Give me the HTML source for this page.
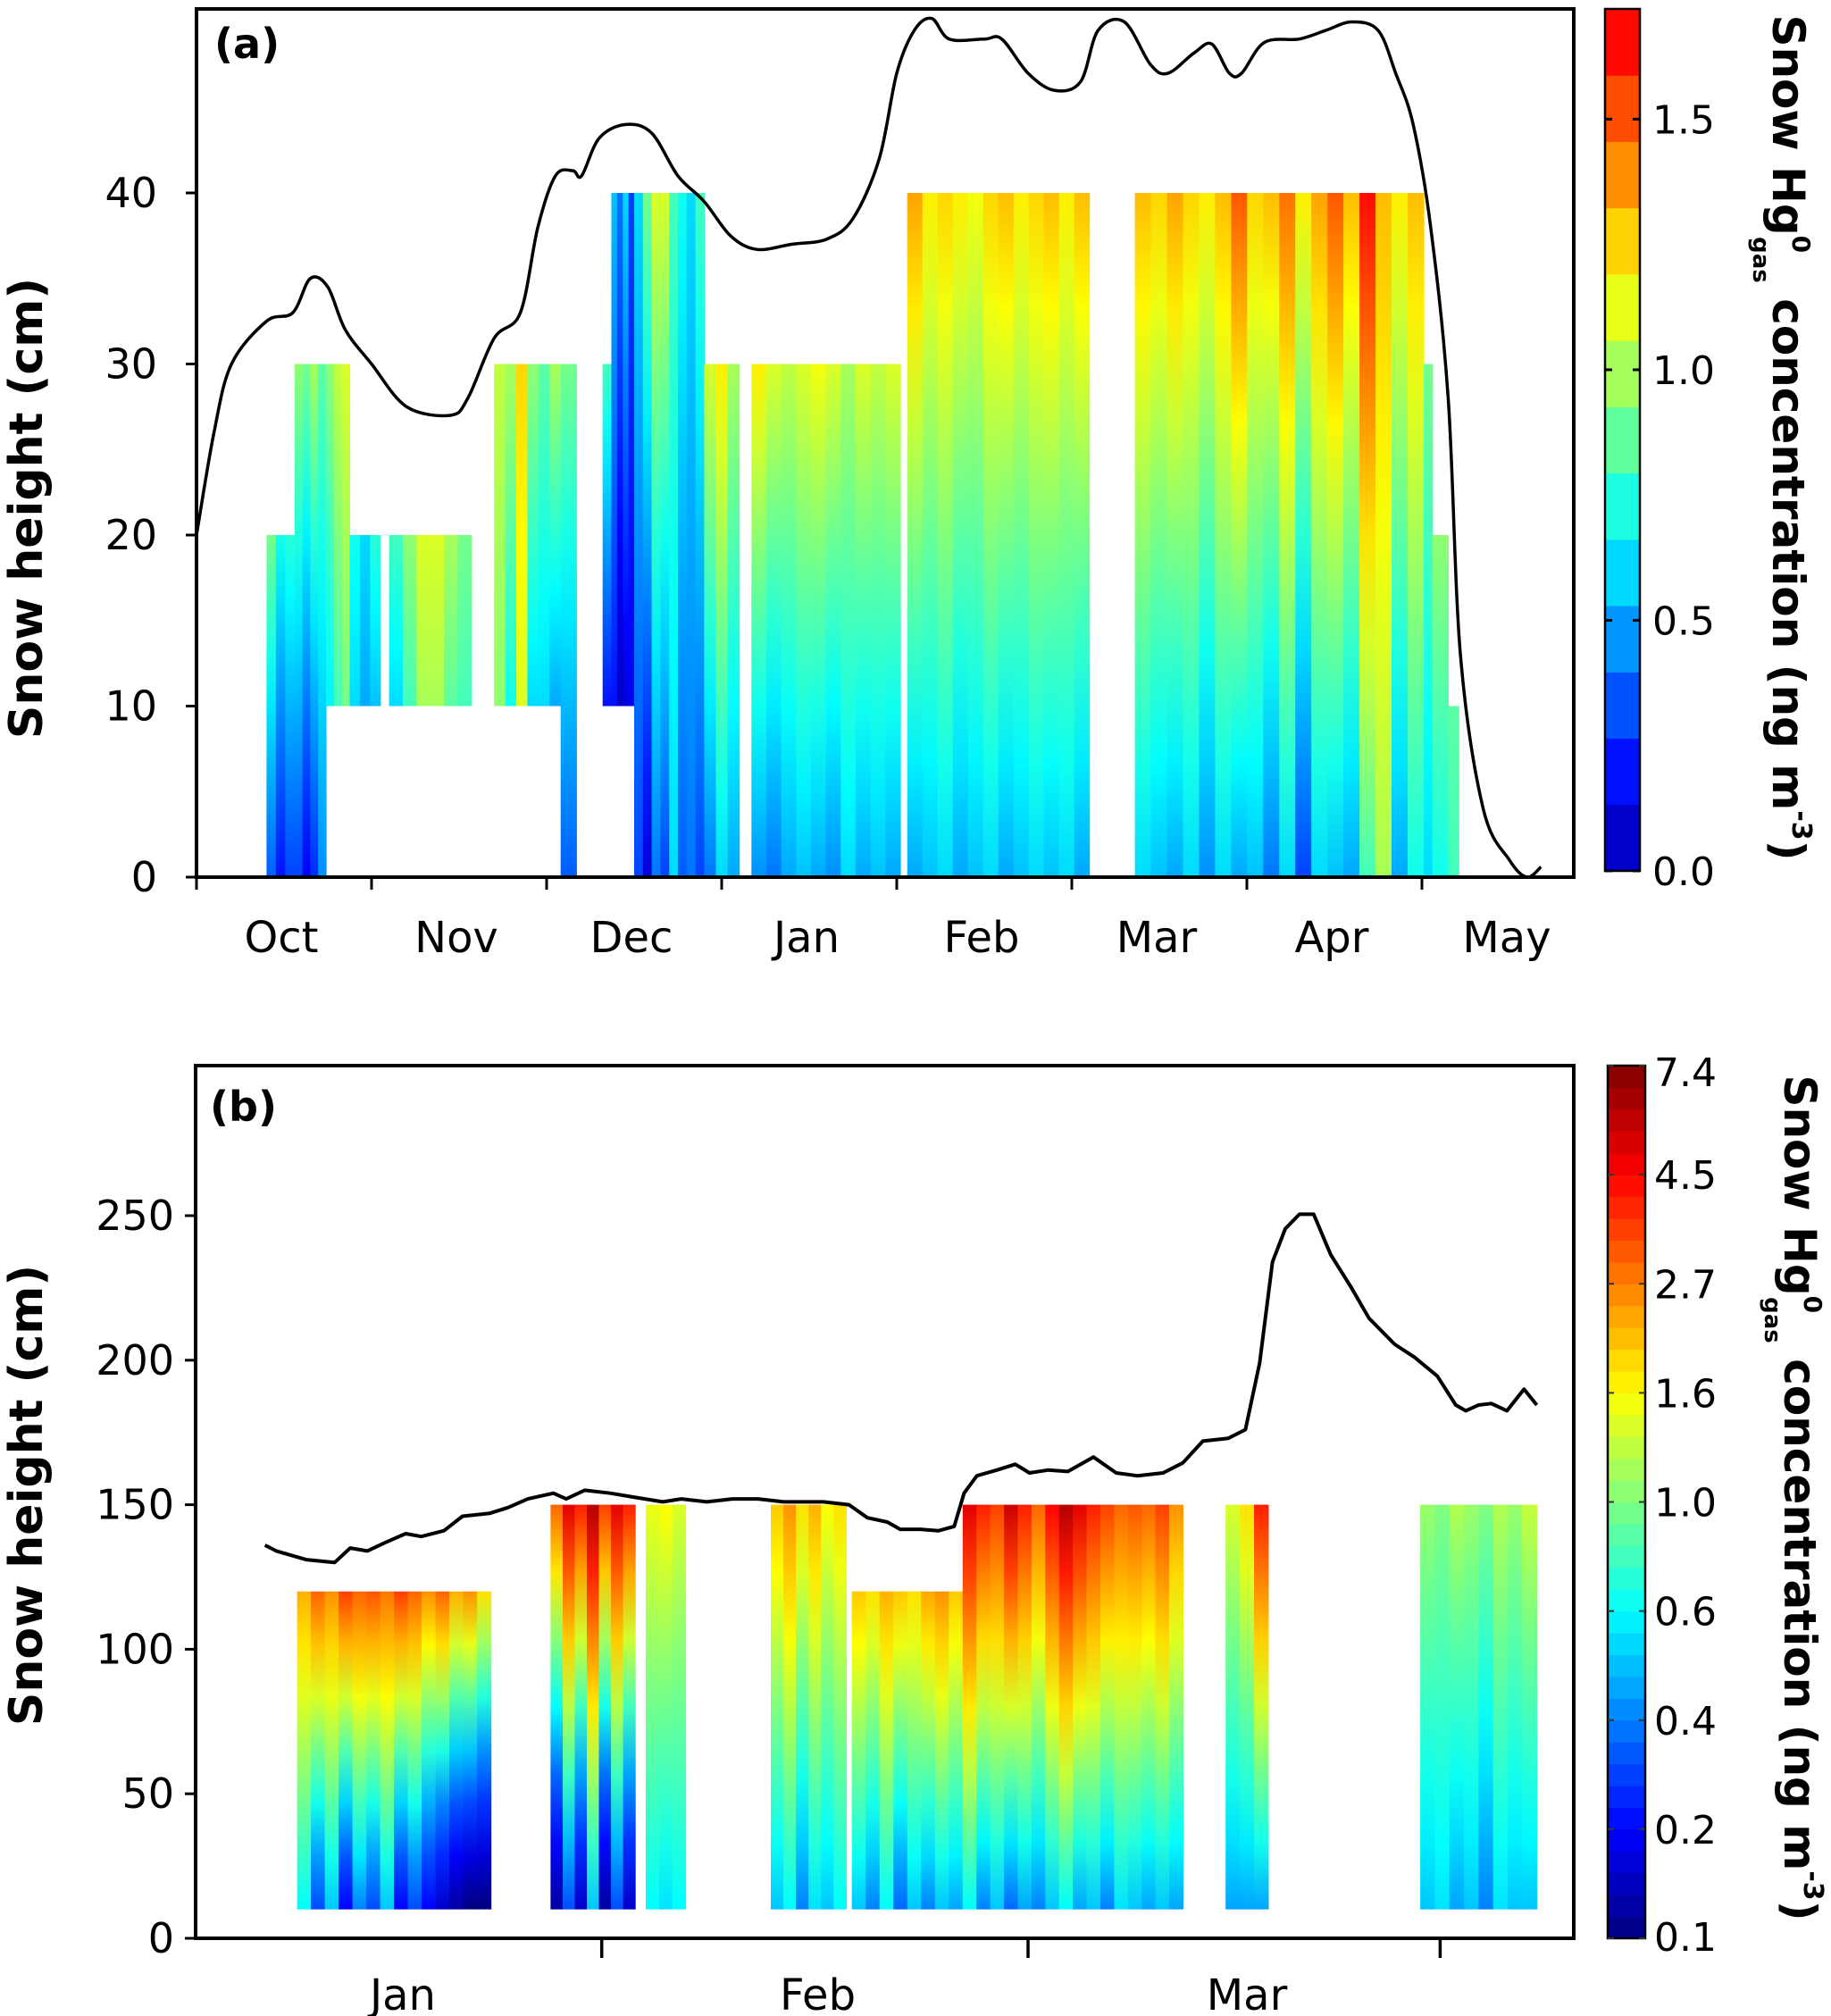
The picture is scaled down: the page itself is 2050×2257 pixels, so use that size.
<!DOCTYPE html>
<html><head><meta charset="utf-8"><style>
html,body{margin:0;padding:0;background:#fff;}
svg{display:block;}
text{font-family:"DejaVu Sans","Liberation Sans",sans-serif;}
</style></head><body>
<svg id="chart" width="2050" height="2257" viewBox="0 0 2050 2257" xmlns="http://www.w3.org/2000/svg">
<defs id="defs"></defs>
<g id="panelA"></g>
<g id="panelB"></g>
</svg>
<script>
// ---------- Panel (a) data ----------
const aMonths = ["Oct","Nov","Dec","Jan","Feb","Mar","Apr","May"];
const aYTicks = [0,10,20,30,40];
const aCbTicks = [0.0,0.5,1.0,1.5];
const aSegStart = [0.40,0.56,0.74,0.875,1.10,1.70,2.08,2.32,2.37,2.50,2.90,3.17,4.06,5.36,7.01,7.06,7.15];
const aSegEnd   = [0.56,0.74,0.875,1.05,1.57,2.08,2.17,2.37,2.50,2.90,3.10,4.02,5.10,7.01,7.06,7.15,7.21];
const aSegTop   = [20,30,30,20,20,30,30,30,40,40,30,30,40,40,30,20,10];
const aSegBase  = [0,0,10,10,10,10,0,10,10,0,0,0,0,0,0,0,0];
const aTopVals = [
 [0.9,0.7,0.75],[0.95,0.9,1.0,0.85],[0.95,1.05,1.1],[0.7,0.6,0.75],
 [0.8,0.95,1.1,1.1,1.0,0.9],[1.05,1.0,1.25,0.95,0.85,1.0],[0.9],[0.8],
 [0.55,0.4,0.6,0.3],[0.6,0.9,1.1,1.1,0.8,0.7,0.6,0.8],[1.1,1.2,1.0],
 [1.2,1.1,1.05,1.1,1.15,1.1,1.0,1.1,1.05,1.1],
 [1.35,1.2,1.25,1.2,1.15,1.25,1.3,1.2,1.25,1.3,1.2,1.3],
 [1.3,1.25,1.35,1.25,1.2,1.3,1.5,1.25,1.3,1.45,1.2,1.35,1.5,1.3,1.65,1.3,1.2,1.3],
 [0.9],[0.95],[0.85]];
const aBotVals = [
 [0.35,0.2,0.3],[0.3,0.15,0.25,0.45],[0.65,0.8,0.9],[0.6,0.5,0.55],
 [0.6,0.8,1.0,1.0,0.85,0.8],[0.95,0.7,1.1,0.6,0.6,0.5],[0.35],[0.2],
 [0.2,0.05,0.1,0.15],[0.3,0.1,0.4,0.3,0.6,0.35,0.4,0.3],[0.4,0.6,0.5],
 [0.45,0.4,0.5,0.55,0.5,0.45,0.6,0.5,0.55,0.5],
 [0.5,0.55,0.6,0.5,0.55,0.6,0.5,0.55,0.6,0.55,0.6,0.5],
 [0.6,0.55,0.5,0.6,0.45,0.6,0.5,0.55,0.4,0.6,0.3,0.6,0.55,0.5,0.8,1.0,0.5,0.7],
 [0.6],[0.7],[0.8]];
const aLineX = [0,0.1,0.2,0.4,0.55,0.65,0.75,0.85,1.0,1.2,1.45,1.55,1.7,1.85,1.95,2.05,2.15,2.2,2.3,2.45,2.6,2.75,2.9,3.05,3.2,3.4,3.6,3.75,3.9,4.0,4.1,4.2,4.3,4.5,4.6,4.75,4.9,5.05,5.15,5.3,5.45,5.55,5.7,5.8,5.9,5.97,6.1,6.3,6.45,6.6,6.75,6.85,6.95,7.05,7.15,7.22,7.35,7.5,7.6,7.68];
const aLineY = [20,26,30,32.5,33,35,34.5,32,30,27.5,27,28,31.5,33,38,41,41.3,41,43.2,44,43.5,41,39.5,37.5,36.7,37,37.3,38.5,42,47,49.5,50.2,49,49,49,47,46,46.5,49.5,50,47.5,47,48.2,48.7,47,47,48.8,49,49.5,50,49.5,47,44,38,28,13,4,1,0,0.6];

// ---------- Panel (b) data ----------
const bMonthLabels = ["Jan","Feb","Mar"];
const bMonthLabelDays = [17,46.2,76.4];
const bTickDays = [31,61,90];
const bYTicks = [0,50,100,150,200,250];
const bCbTicks = [0.1,0.2,0.4,0.6,1.0,1.6,2.7,4.5,7.4];
const bSegStart = [9.56,27.4,34.1,42.9,48.6,56.4,74.9,88.6];
const bSegEnd   = [23.2,33.35,36.9,48.2,56.4,71.9,77.9,96.8];
const bSegTop   = [120,150,150,150,120,150,150,150];
const bSegBase  = [10,10,10,10,10,10,10,10];
const bTopVals = [
 [2.2,3,2.5,3.5,3,3.2,2.8,3.5,3,2.5,3,2.2,2.5,1.8],
 [3,5,4,6,3.5,5,4],[1.5,1.6,1.4],[2,2.5,1.8,2.2,1.6,1.8],
 [2,1.8,2.2,2,1.8,2.3,2.5,2],
 [5,4,3.5,5.5,4,3,4.5,6,5,4,3.5,3,3.2,3,3.5,2.5],
 [1.4,1.8,4],[1.1,1.0,1.2,1.1,1.0,1.2,1.1,1.3]];
const bBotVals = [
 [0.6,0.3,0.5,0.2,0.4,0.3,0.5,0.2,0.3,0.2,0.15,0.12,0.1,0.1],
 [0.12,0.3,0.15,0.5,0.12,0.3,0.15],[0.6,0.55,0.6],[0.5,0.6,0.4,0.55,0.5,0.6],
 [0.5,0.4,0.6,0.35,0.5,0.4,0.5,0.45],
 [0.6,0.4,0.5,0.35,0.45,0.4,0.5,0.6,0.45,0.5,0.4,0.55,0.5,0.45,0.5,0.45],
 [0.45,0.45,0.45],[0.5,0.55,0.45,0.5,0.4,0.55,0.5,0.5]];
const bLineX = [7.3,8.1,10.2,12.2,13.3,14.5,15.8,17.2,18.3,19.9,21.2,23.1,24.4,25.8,27.6,28.5,29.8,31.6,33.4,35.3,36.6,38.4,40.2,42,43.8,46.6,48.4,49.7,51.1,52,53.4,54.7,55.8,56.5,57.4,58.8,60.1,61.1,62.4,63.8,65.6,67.2,68.7,70.5,71.9,73.3,75.1,76.3,77.3,78.2,79.1,80.1,81.1,82.3,83.7,85,86.8,88.2,89.8,91.1,91.8,92.7,93.6,94.7,95.9,96.8];
const bLineY = [136,134,131,130,135,134,137,140,139,141,146,147,149,152,154,152,155,154,152.5,151,152,151,152,152,151,151,150,145.5,144,141.5,141.5,141,142.5,154,160,162,164,161,162,161.5,166.5,161,160,161,164.5,172,173,176,199,234,245.5,250.5,250.5,236.5,225.5,214.5,205.5,201,194.5,184.5,182.5,184.5,185,182.5,190,184.5];

// ---------- helpers ----------
const NS="http://www.w3.org/2000/svg";
const defs=document.getElementById('defs');
function mk(tag,attrs,parent){const e=document.createElementNS(NS,tag);for(const k in attrs)e.setAttribute(k,attrs[k]);if(parent)parent.appendChild(e);return e;}
function clamp(v){return Math.max(0,Math.min(1,v));}
function jet(t){t=clamp(t);const r=clamp(1.5-Math.abs(4*t-3)),g=clamp(1.5-Math.abs(4*t-2)),b=clamp(1.5-Math.abs(4*t-1));return `rgb(${Math.round(r*255)},${Math.round(g*255)},${Math.round(b*255)})`;}
const aMax=1.72;
function aT(v){return 0.04+v*0.5;}
function bT(v){const tk=bCbTicks;if(v<=tk[0])return 0;for(let i=0;i<tk.length-1;i++){if(v<=tk[i+1]){return (i+Math.log(v/tk[i])/Math.log(tk[i+1]/tk[i]))/(tk.length-1);}}return 1;}
let gid=0;
function gradient(top,bot,tf,logInterp){
  const id='g'+(gid++);
  const g=mk('linearGradient',{id:id,x1:0,y1:0,x2:0,y2:1},defs);
  for(let i=0;i<=6;i++){const f=i/6;const v=logInterp?Math.exp(Math.log(top)*(1-f)+Math.log(bot)*f):top*(1-f)+bot*f;mk('stop',{offset:f,'stop-color':jet(tf(v))},g);}
  return id;
}
function smoothPath(pts){let d=`M${pts[0][0]},${pts[0][1]}`;for(let i=0;i<pts.length-1;i++){const p0=pts[Math.max(0,i-1)],p1=pts[i],p2=pts[i+1],p3=pts[Math.min(pts.length-1,i+2)];const c1=[p1[0]+(p2[0]-p0[0])/6,p1[1]+(p2[1]-p0[1])/6],c2=[p2[0]-(p3[0]-p1[0])/6,p2[1]-(p3[1]-p1[1])/6];d+=` C${c1[0].toFixed(1)},${c1[1].toFixed(1)} ${c2[0].toFixed(1)},${c2[1].toFixed(1)} ${p2[0].toFixed(1)},${p2[1].toFixed(1)}`;}return d;}
function cbTitle(parent,cx,cy,name){
  const t=mk('text',{x:0,y:0,transform:`translate(${cx},${cy}) rotate(90)`,'text-anchor':'middle','font-size':50,'font-weight':'bold','font-family':'"DejaVu Sans Condensed","DejaVu Sans",sans-serif'},parent);
  
  
  t.innerHTML='Snow Hg<tspan dy="-22" font-size="28">0</tspan><tspan dx="-18" dy="44" font-size="26">gas</tspan><tspan dy="-22"> concentration (ng m</tspan><tspan dy="-22" font-size="30">-3</tspan><tspan dy="22">)</tspan>';
}

// ---------- Panel (a) ----------
(function(){
  const P=document.getElementById('panelA');
  const L=220,R=1762,T=10,B=982;
  const x=m=>L+m*196;
  const y=c=>B-c*19.15;
  const heat=mk('g',{},P);
  
  
  for(let s=0;s<aSegStart.length;s++){
    const n=aTopVals[s].length;const x0=x(aSegStart[s]),x1=x(aSegEnd[s]);const w=(x1-x0)/n;
    for(let c=0;c<n;c++){
      const id=gradient(aTopVals[s][c],aBotVals[s][c],aT,false);
      const r=mk('rect',{x:(x0+c*w).toFixed(1),y:y(aSegTop[s]),width:(w+0.6).toFixed(1),height:y(aSegBase[s])-y(aSegTop[s]),fill:`url(#${id})`},heat);
      
      
    }
  }
  const pts=aLineX.map((m,i)=>[x(m),y(aLineY[i])]);
  const ln=mk('path',{d:smoothPath(pts),fill:'none',stroke:'#000','stroke-width':3.5},P);
  
  
  const fr=mk('rect',{x:L,y:T,width:R-L,height:B-T,fill:'none',stroke:'#000','stroke-width':4},P);
  
  
  aYTicks.forEach(v=>{
    mk('line',{x1:L-12,x2:L,y1:y(v),y2:y(v),stroke:'#000','stroke-width':3},P);
    const t=mk('text',{x:L-44,y:y(v)+16,'text-anchor':'end','font-size':46},P);t.textContent=v;
    
    
  });
  for(let i=0;i<aMonths.length;i++){
    mk('line',{x1:x(i),x2:x(i),y1:B,y2:B+14,stroke:'#000','stroke-width':3},P);
    const t=mk('text',{x:x(i+0.5)-3,y:1066,'text-anchor':'middle','font-size':48},P);t.textContent=aMonths[i];
    
    
  }
  const yt=mk('text',{x:0,y:0,transform:'translate(47,569) rotate(-90)','text-anchor':'middle','font-size':52,'font-weight':'bold'},P);
  yt.textContent='Snow height (cm)';
  
  
  const pl=mk('text',{x:240,y:65,'font-size':46,'font-weight':'bold'},P);pl.textContent='(a)';
  
  
  const cb=mk('g',{},P);
  
  
  const cT=10,cB=975,cL=1797,cW=39;const cy=v=>cB-(v/aMax)*(cB-cT);const nb=13;
  for(let i=0;i<nb;i++){const v0=i*aMax/nb,v1=(i+1)*aMax/nb;mk('rect',{x:cL,y:cy(v1),width:cW,height:cy(v0)-cy(v1)+0.5,fill:jet(aT((v0+v1)/2))},cb);}
  mk('rect',{x:cL,y:cT,width:cW,height:cB-cT,fill:'none',stroke:'#000','stroke-width':2.5},cb);
  aCbTicks.forEach(v=>{
    mk('line',{x1:cL,x2:cL+8,y1:cy(v),y2:cy(v),stroke:'#000','stroke-width':3},cb);
    mk('line',{x1:cL+cW-8,x2:cL+cW,y1:cy(v),y2:cy(v),stroke:'#000','stroke-width':3},cb);
    const t=mk('text',{x:1850,y:cy(v)+16,'font-size':44},cb);t.textContent=v.toFixed(1);
    
    
  });
  cbTitle(P,1985,490,'colorbar-title-a');
})();

// ---------- Panel (b) ----------
(function(){
  const P=document.getElementById('panelB');
  const L=219,R=1762,T=1193,B=2170;
  const x=d=>180.5+d*15.91;
  const y=c=>B-c*3.236;
  const heat=mk('g',{},P);
  
  
  for(let s=0;s<bSegStart.length;s++){
    const n=bTopVals[s].length;const x0=x(bSegStart[s]),x1=x(bSegEnd[s]);const w=(x1-x0)/n;
    for(let c=0;c<n;c++){
      const id=gradient(bTopVals[s][c],bBotVals[s][c],bT,true);
      const r=mk('rect',{x:(x0+c*w).toFixed(1),y:y(bSegTop[s]),width:(w+0.6).toFixed(1),height:y(bSegBase[s])-y(bSegTop[s]),fill:`url(#${id})`},heat);
      
      
    }
  }
  const pts=bLineX.map((d,i)=>`${x(d).toFixed(1)},${y(bLineY[i]).toFixed(1)}`).join(' ');
  const ln=mk('polyline',{points:pts,fill:'none',stroke:'#000','stroke-width':4,'stroke-linejoin':'round'},P);
  
  
  const fr=mk('rect',{x:L,y:T,width:R-L,height:B-T,fill:'none',stroke:'#000','stroke-width':4},P);
  
  
  bYTicks.forEach(v=>{
    mk('line',{x1:L-12,x2:L,y1:y(v),y2:y(v),stroke:'#000','stroke-width':3},P);
    const t=mk('text',{x:L-24,y:y(v)+16,'text-anchor':'end','font-size':46},P);t.textContent=v;
    
    
  });
  bTickDays.forEach(d=>{mk('line',{x1:x(d),x2:x(d),y1:B,y2:B+22,stroke:'#000','stroke-width':3.5},P);});
  bMonthLabels.forEach((m,i)=>{
    const t=mk('text',{x:x(bMonthLabelDays[i]),y:2250,'text-anchor':'middle','font-size':48},P);t.textContent=m;
    
    
  });
  const yt=mk('text',{x:0,y:0,transform:'translate(47,1674) rotate(-90)','text-anchor':'middle','font-size':52,'font-weight':'bold'},P);
  yt.textContent='Snow height (cm)';
  
  
  const pl=mk('text',{x:235,y:1255,'font-size':46,'font-weight':'bold'},P);pl.textContent='(b)';
  
  
  const cb=mk('g',{},P);
  
  
  const cT=1193,cB=2170,cL=1800,cW=42;const nb=40;
  for(let i=0;i<nb;i++){const y1=cB-(i+1)*(cB-cT)/nb;mk('rect',{x:cL,y:y1,width:cW,height:(cB-cT)/nb+0.6,fill:jet((i+0.5)/nb)},cb);}
  mk('rect',{x:cL,y:cT,width:cW,height:cB-cT,fill:'none',stroke:'#000','stroke-width':2.5},cb);
  bCbTicks.forEach(v=>{
    const yy=cB-bT(v)*(cB-cT);
    mk('line',{x1:cL,x2:cL+7,y1:yy,y2:yy,stroke:'#333','stroke-width':2},cb);
    mk('line',{x1:cL+cW-7,x2:cL+cW,y1:yy,y2:yy,stroke:'#333','stroke-width':2},cb);
    const t=mk('text',{x:1852,y:Math.min(Math.max(yy+16,1216),2184),'font-size':44},cb);t.textContent=v.toFixed(1);
    
    
  });
  cbTitle(P,1998,1677,'colorbar-title-b');
})();
</script>
</body></html>
